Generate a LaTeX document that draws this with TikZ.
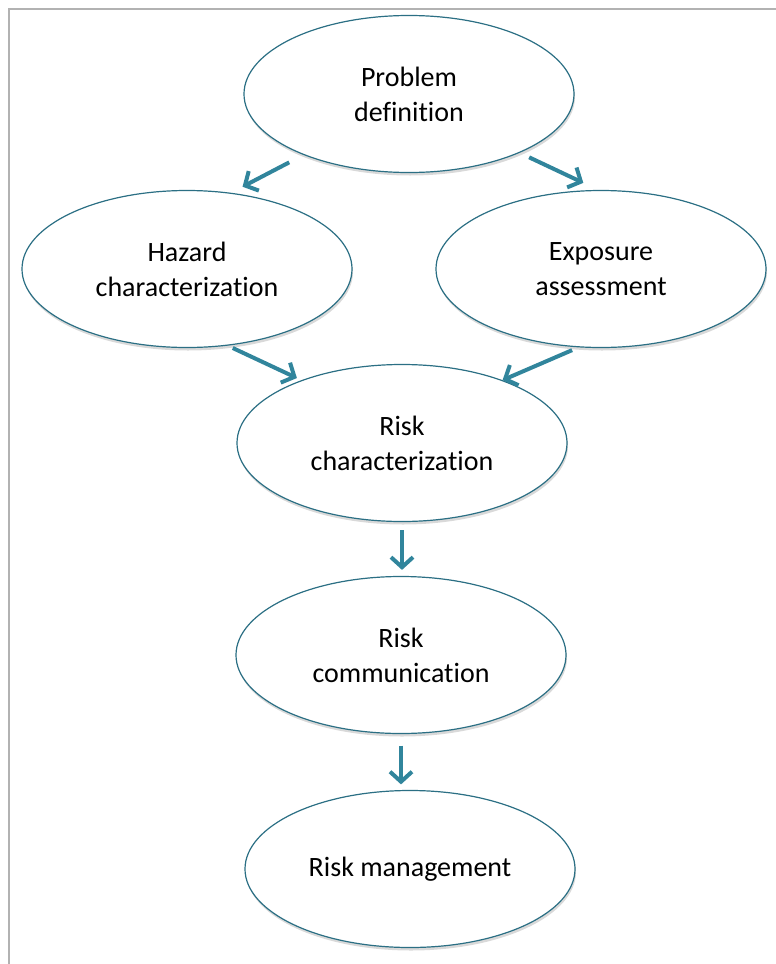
\documentclass[tikz,border=0pt]{standalone}
\usepackage{fontspec}
\setmainfont{Carlito}[Ligatures=NoCommon]
\usetikzlibrary{arrows.meta,shapes.geometric,shadows}
\definecolor{ringblue}{HTML}{2B6F84}
\definecolor{arrowblue}{HTML}{31859C}
\begin{document}
\begin{tikzpicture}[x=1pt,y=-1pt,
    bubble/.style={ellipse,draw=ringblue,line width=1.2pt,fill=white,
        minimum width=330pt,minimum height=157pt,inner sep=0pt,align=center,
        font=\fontsize{28}{35}\selectfont,
        drop shadow={shadow xshift=1pt,shadow yshift=-3pt,opacity=.3}},
    flow/.style={draw=arrowblue,line width=4pt,-{Straight Barb[length=10pt,width=22pt]}}]
        \useasboundingbox (0,0) rectangle (776,964);
        \draw[gray!60,line width=2pt] (776,9) -- (9,9) -- (9,964);
        \node[bubble] (prob) at (409,94) {Problem\\definition};
        \node[bubble] (haz) at (187,269) {Hazard\\characterization};
        \node[bubble] (expo) at (601,269) {Exposure\\assessment};
        \node[bubble] (riskchar) at (402,443) {Risk\\characterization};
        \node[bubble] (riskcom) at (401,655) {Risk\\communication};
        \node[bubble] (riskman) at (410,869) {Risk management};
        \draw[flow,shorten <=16pt,shorten >=13pt] (prob.210) -- (haz.60);
        \draw[flow,shorten <=10.5pt,shorten >=16.5pt] (prob.332) -- (expo.92);
        \draw[flow,shorten <=5.5pt,shorten >=5pt] (haz.298) -- (riskchar.148);
        \draw[flow,shorten <=7pt] (expo.254) -- (riskchar.32);
        \draw[flow,shorten <=8pt,shorten >=6pt] (riskchar.south) -- (riskchar.south |- riskcom.north);
        \draw[flow,shorten <=11.5pt,shorten >=5.5pt] (riskcom.south) -- (riskcom.south |- riskman.north);
    \end{tikzpicture}
\end{document}
